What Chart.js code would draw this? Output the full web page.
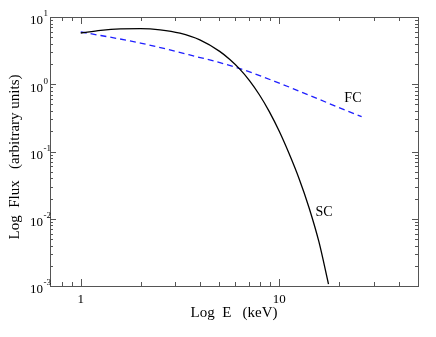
<!DOCTYPE html>
<html>
<head>
<meta charset="utf-8">
<script src="https://cdn.jsdelivr.net/npm/chart.js@4.4.1/dist/chart.umd.min.js"></script>
<style>
  body { margin: 0; background: #fff; }
  #wrap { width: 436px; height: 337px; }
</style>
</head>
<body>
<div id="wrap"><canvas id="chart" width="436" height="337"></canvas></div>
<script>
// values
var scEnergy = [1, 1.26, 1.585, 2.0, 2.51, 3.16, 3.98, 5.01, 5.62, 6.31, 7.08, 7.94, 8.91, 10, 11.22, 12.59, 14.13, 15.85, 17.7];
var scFlux   = [5.78, 6.34, 6.65, 6.70, 6.44, 5.74, 4.56, 3.08, 2.35, 1.69, 1.135, 0.698, 0.392, 0.200, 0.0925, 0.0394, 0.0146, 0.00452, 0.00107];
var fcEnergy = [1, 2, 3.5, 6, 10, 12.6, 20, 26];
var fcFlux   = [6.0, 4.1, 2.75, 1.8, 1.04, 0.79, 0.45, 0.33];

var xTickValues = [1, 10];
var xTickLabels = ["1", "10"];
var yTickExponents = [1, 0, -1, -2, -3];

var curveLabels = ["FC", "SC"];
var curveLabelE = [23.5, 16.8];
var curveLabelF = [0.625, 0.0125];

var xTitle = "Log  E   (keV)";
var yTitle = "Log  Flux   (arbitrary units)";

function toPoints(xs, ys) {
    var pts = [];
    for (var i = 0; i < xs.length; i++) pts.push({x: xs[i], y: ys[i]});
    return pts;
}

var serif = "'Liberation Serif', 'DejaVu Serif', serif";

// frame, inward ticks on all sides, tick labels and titles
var framePlugin = {
    id: "frame",
    afterDraw: function(chart) {
        var ctx = chart.ctx;
        var a = chart.chartArea;
        var xs = chart.scales.x, ys = chart.scales.y;
        ctx.save();
        ctx.strokeStyle = "#555";
        ctx.lineWidth = 1;
        ctx.strokeRect(Math.round(a.left) + 0.5, Math.round(a.top) + 0.5,
            Math.round(a.right - a.left), Math.round(a.bottom - a.top));

        // x ticks
        var d, m, v, px;
        for (d = -1; d <= 1; d++) {
            for (m = 1; m <= 9; m++) {
                v = m * Math.pow(10, d);
                if (v < xs.min || v > xs.max) continue;
                px = Math.round(xs.getPixelForValue(v)) + 0.5;
                var len = (m === 1) ? 7 : 4;
                ctx.beginPath();
                ctx.moveTo(px, a.bottom); ctx.lineTo(px, a.bottom - len);
                ctx.moveTo(px, a.top); ctx.lineTo(px, a.top + len);
                ctx.stroke();
            }
        }
        // y ticks
        for (d = -3; d <= 1; d++) {
            for (m = 1; m <= 9; m++) {
                v = m * Math.pow(10, d);
                if (v < ys.min * 0.999 || v > ys.max * 1.001) continue;
                var py = Math.round(ys.getPixelForValue(v)) + 0.5;
                var len2 = (m === 1) ? 6 : 3;
                ctx.beginPath();
                ctx.moveTo(a.left, py); ctx.lineTo(a.left + len2, py);
                ctx.moveTo(a.right, py); ctx.lineTo(a.right - len2, py);
                ctx.stroke();
            }
        }

        ctx.fillStyle = "#000";
        // x tick labels
        ctx.font = "13px " + serif;
        ctx.textAlign = "center";
        ctx.textBaseline = "middle";
        for (var i = 0; i < xTickValues.length; i++) {
            ctx.fillText(xTickLabels[i], xs.getPixelForValue(xTickValues[i]), a.bottom + 14);
        }
        // y tick labels: 10 with superscript exponent
        for (i = 0; i < yTickExponents.length; i++) {
            var e = yTickExponents[i];
            var y = ys.getPixelForValue(Math.pow(10, e));
            ctx.font = "13px " + serif;
            ctx.textAlign = "right";
            ctx.textBaseline = "middle";
            ctx.fillText("10", 43, y + 4);
            ctx.font = "9px " + serif;
            ctx.textAlign = "left";
            ctx.fillText(String(e), 43.5, y - 3);
        }

        // titles
        ctx.font = "15px " + serif;
        ctx.textAlign = "center";
        ctx.textBaseline = "middle";
        ctx.fillText(xTitle, (a.left + a.right) / 2, 313);
        ctx.save();
        ctx.translate(15, 157);
        ctx.rotate(-Math.PI / 2);
        ctx.fillText(yTitle, 0, 0);
        ctx.restore();

        // curve labels
        ctx.font = "14px " + serif;
        for (i = 0; i < curveLabels.length; i++) {
            ctx.fillText(curveLabels[i], xs.getPixelForValue(curveLabelE[i]), ys.getPixelForValue(curveLabelF[i]));
        }
        ctx.restore();
    }
};

var chart = new Chart(document.getElementById("chart"), {
    type: "line",
    data: {
        datasets: [
            {
                label: "SC",
                data: toPoints(scEnergy, scFlux),
                borderColor: "#000",
                borderWidth: 1.3,
                pointRadius: 0,
                fill: false,
                cubicInterpolationMode: "monotone"
            },
            {
                label: "FC",
                data: toPoints(fcEnergy, fcFlux),
                borderColor: "#1f1fff",
                borderWidth: 1.3,
                borderDash: [6, 4],
                pointRadius: 0,
                fill: false,
                cubicInterpolationMode: "monotone"
            }
        ]
    },
    options: {
        responsive: false,
        animation: false,
        layout: { padding: { left: 50, right: 18, top: 17, bottom: 51 } },
        plugins: { legend: { display: false }, tooltip: { enabled: false } },
        scales: {
            x: { type: "logarithmic", min: 0.7, max: 50, display: false },
            y: { type: "logarithmic", min: 0.001, max: 10, display: false }
        }
    },
    plugins: [framePlugin]
});
</script>
</body>
</html>
